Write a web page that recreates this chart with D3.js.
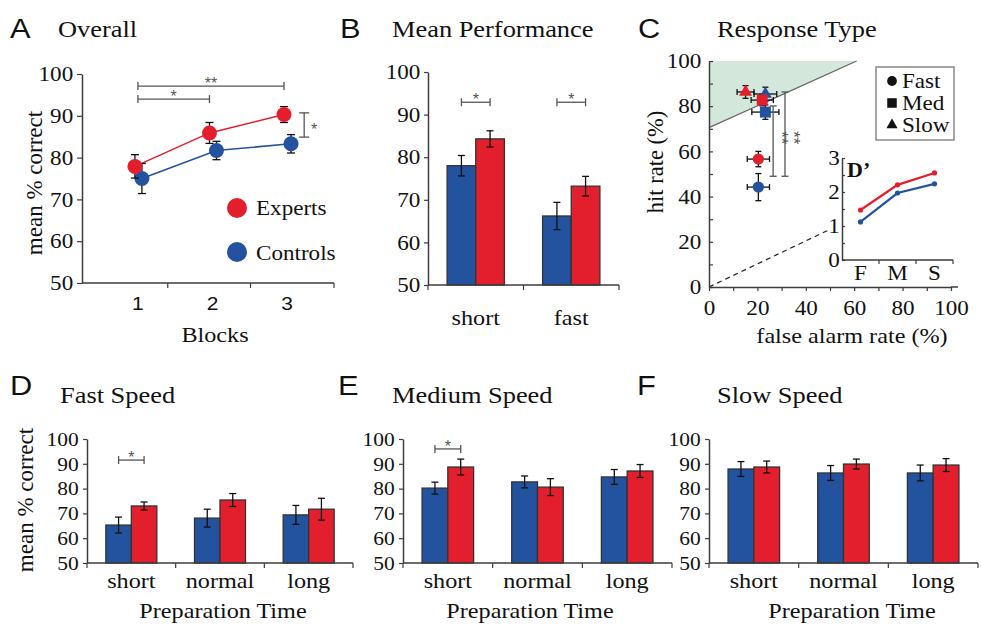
<!DOCTYPE html>
<html>
<head>
<meta charset="utf-8">
<script src="https://cdn.jsdelivr.net/npm/d3@7"></script>
<style>
  body { margin: 0; background: #fff; }
  svg { display: block; }
</style>
</head>
<body>
<svg id="fig" width="981" height="628"></svg>
<script>
// ---------- data ----------
const pctTicks = [50, 60, 70, 80, 90, 100];

// A: overall accuracy per block
const blocks = [1, 2, 3];
const overallExperts = [77.9, 85.9, 90.3];
const overallExpertsErr = [2.8, 2.5, 1.9];
const overallControls = [75.0, 81.7, 83.3];
const overallControlsErr = [3.6, 2.2, 2.2];

// B: mean performance
const meanCats = ["short", "fast"];
const meanControls = [78.0, 66.2];
const meanControlsErr = [2.4, 3.2];
const meanExperts = [84.3, 73.2];
const meanExpertsErr = [1.9, 2.3];

// C: hit rate vs false alarm rate by response type
const respTypes = ["Fast", "Med", "Slow"];
const expertsFA = [20.4, 22.0, 15.1];
const expertsFAErr = [4.6, 4.6, 3.5];
const expertsHit = [56.6, 82.7, 86.3];
const expertsHitErr = [3.4, 2.5, 2.8];
const controlsFA = [20.4, 23.3, 23.3];
const controlsFAErr = [4.6, 5.6, 4.7];
const controlsHit = [44.2, 77.4, 85.4];
const controlsHitErr = [6.0, 3.2, 3.0];
const rocTicks = [0, 20, 40, 60, 80, 100];
const shadeEdge = [[0, 70.5], [61, 100]];
const dashedRef = [[0, 0], [50, 25.5]];

// C inset: d'
const dprimeCats = ["F", "M", "S"];
const dprimeTicks = [0, 1, 2, 3];
const dprimeExperts = [1.47, 2.21, 2.56];
const dprimeControls = [1.12, 1.97, 2.24];

// D-F: accuracy by preparation time
const prepCats = ["short", "normal", "long"];
const fastControls = [65.3, 68.1, 69.4];
const fastControlsErr = [3.2, 3.6, 3.8];
const fastExperts = [73.0, 75.4, 71.7];
const fastExpertsErr = [1.6, 2.6, 4.4];
const medControls = [80.2, 82.7, 84.7];
const medControlsErr = [2.4, 2.4, 3.0];
const medExperts = [88.7, 80.6, 87.1];
const medExpertsErr = [3.2, 3.4, 2.6];
const slowControls = [87.9, 86.3, 86.3];
const slowControlsErr = [3.0, 3.0, 3.2];
const slowExperts = [88.7, 89.9, 89.5];
const slowExpertsErr = [2.4, 2.0, 2.6];

// ---------- style ----------
const SERIF = "Liberation Serif";
const SANS = "Liberation Sans";
const RED = "#e41f2d", BLUE = "#23539e";
const AXIS = "#3c3c3c", SIG = "#555555", INK = "#111111";
const SX = 1.1; // slight horizontal widening of the lettering

const svg = d3.select("#fig");
svg.append("rect").attr("width", 981).attr("height", 628).attr("fill", "#fff");

function text(g, x, y, s, o = {}) {
  const sx = o.sx ?? SX;
  const t = g.append("text")
    .attr("transform", `translate(${x},${y})` + (o.rotate ? ` rotate(${o.rotate})` : "") + ` scale(${sx},1)`)
    .attr("text-anchor", o.anchor || "start")
    .attr("fill", o.fill || INK)
    .attr("font-family", o.font || SERIF)
    .attr("font-size", o.size || 22);
  if (o.weight) t.attr("font-weight", o.weight);
  t.text(s);
  return t;
}

function styleAxis(sel, size, font) {
  sel.attr("font-family", font || SERIF).attr("font-size", size);
  sel.select(".domain").attr("stroke", AXIS).attr("stroke-width", 1.5);
  sel.selectAll(".tick line").attr("stroke", AXIS).attr("stroke-width", 1.2);
  sel.selectAll(".tick text")
    .attr("fill", INK)
    .attr("transform", `scale(${SX},1)`);
}

function line(g, x1, y1, x2, y2, color, w) {
  g.append("line").attr("x1", x1).attr("y1", y1).attr("x2", x2).attr("y2", y2)
    .attr("stroke", color).attr("stroke-width", w);
}

// vertical error bar with caps
function vErr(g, x, yLo, yHi, cap = 4) {
  line(g, x, yLo, x, yHi, "#111", 1.3);
  line(g, x - cap, yLo, x + cap, yLo, "#111", 1.3);
  line(g, x - cap, yHi, x + cap, yHi, "#111", 1.3);
}
function hErr(g, y, xLo, xHi, cap = 3.5) {
  line(g, xLo, y, xHi, y, "#111", 1.3);
  line(g, xLo, y - cap, xLo, y + cap, "#111", 1.3);
  line(g, xHi, y - cap, xHi, y + cap, "#111", 1.3);
}

// significance bracket, horizontal
function hSig(g, xa, xb, y, stars) {
  line(g, xa, y, xb, y, SIG, 1.3);
  line(g, xa, y - 4, xa, y + 4, SIG, 1.3);
  line(g, xb, y - 4, xb, y + 4, SIG, 1.3);
  text(g, (xa + xb) / 2, y + 3, stars, { anchor: "middle", font: SANS, size: 16, fill: SIG, sx: 1 });
}

// ---------- panel headings ----------
const headings = [
  ["A", 10, 38, "Overall", 58, 37],
  ["B", 340, 38, "Mean Performance", 392, 37],
  ["C", 638, 38, "Response Type", 717, 37],
  ["D", 10, 395, "Fast Speed", 60, 403],
  ["E", 338, 395, "Medium Speed", 392, 403],
  ["F", 637, 395, "Slow Speed", 717, 403]
];
headings.forEach(([L, lx, ly, T, tx, ty]) => {
  text(svg, lx, ly, L, { font: SANS, size: 28 });
  text(svg, tx, ty, T, { size: 24 });
});

// ---------- A: overall ----------
{
  const g = svg.append("g");
  const x = d3.scaleLinear().domain([0.25, 3.63]).range([82, 334]);
  const y = d3.scaleLinear().domain([50, 100]).range([283, 74]);
  const blockEdges = [1.4, 2.51, 3.63];

  g.append("g").attr("transform", `translate(${x.range()[0]},0)`)
    .call(d3.axisLeft(y).tickValues(pctTicks).tickSize(5).tickSizeOuter(0).tickPadding(3))
    .call(styleAxis, 21);
  line(g, x.range()[0], y(50), x.range()[1], y(50), AXIS, 1.5);
  blockEdges.forEach(b => line(g, x(b), y(50), x(b), y(50) + 5, AXIS, 1.2));
  blocks.forEach(b => text(g, x(b), 310, String(b), { anchor: "middle", font: SANS, size: 19 }));

  const series = [
    { vals: overallControls, errs: overallControlsErr, color: BLUE, dx: 4 },
    { vals: overallExperts, errs: overallExpertsErr, color: RED, dx: -3 }
  ];
  series.forEach(s => {
    const pts = blocks.map((b, i) => [x(b) + s.dx, y(s.vals[i])]);
    g.append("path").attr("d", d3.line()(pts)).attr("fill", "none")
      .attr("stroke", s.color).attr("stroke-width", 1.5);
  });
  series.forEach(s => {
    blocks.forEach((b, i) => vErr(g, x(b) + s.dx, y(s.vals[i] - s.errs[i]), y(s.vals[i] + s.errs[i])));
    g.selectAll(null).data(blocks).join("circle")
      .attr("cx", (b) => x(b) + s.dx).attr("cy", (b, i) => y(s.vals[i]))
      .attr("r", 7.5).attr("fill", s.color);
  });

  hSig(g, x(1), x(3) - 3, y(97.1), "**");
  hSig(g, x(1), x(2) - 3, y(94.0), "*");
  // between-group bracket at block 3
  const bx = x(3.23);
  line(g, bx, y(90.7), bx, y(84.9), SIG, 1.3);
  line(g, bx - 5, y(90.7), bx + 5, y(90.7), SIG, 1.3);
  line(g, bx - 5, y(84.9), bx + 5, y(84.9), SIG, 1.3);
  text(g, bx + 10, y(87.8) + 10, "*", { anchor: "middle", font: SANS, size: 16, fill: SIG, sx: 1 });

  // legend
  g.append("circle").attr("cx", 237).attr("cy", 208).attr("r", 10).attr("fill", RED);
  text(g, 256, 215, "Experts", { size: 21 });
  g.append("circle").attr("cx", 237).attr("cy", 252).attr("r", 10).attr("fill", BLUE);
  text(g, 256, 260, "Controls", { size: 21 });

  text(g, 215, 342, "Blocks", { anchor: "middle", size: 22 });
  text(g, 42, 183, "mean % correct", { anchor: "middle", size: 23, rotate: -90, sx: 1 });
}

// ---------- bar panels ----------
function barPanel(cfg) {
  const g = svg.append("g");
  const y = d3.scaleLinear().domain([50, 100]).range([cfg.yBot, cfg.yTop]);
  const x = d3.scaleBand().domain(cfg.cats).range([cfg.x0, cfg.x1])
    .paddingInner(cfg.pad).paddingOuter(cfg.pad / 2);
  const sub = d3.scaleBand().domain(["controls", "experts"]).range([0, x.bandwidth()]);

  const rows = cfg.cats.flatMap((c, i) => [
    { cat: c, grp: "controls", v: cfg.controls[i], e: cfg.controlsErr[i], color: BLUE },
    { cat: c, grp: "experts", v: cfg.experts[i], e: cfg.expertsErr[i], color: RED }
  ]);

  g.selectAll("rect.bar").data(rows).join("rect")
    .attr("class", "bar")
    .attr("x", d => x(d.cat) + sub(d.grp))
    .attr("y", d => y(d.v))
    .attr("width", sub.bandwidth())
    .attr("height", d => y(50) - y(d.v))
    .attr("fill", d => d.color)
    .attr("stroke", "#333").attr("stroke-width", 1.3);

  rows.forEach(d => {
    const cx = x(d.cat) + sub(d.grp) + sub.bandwidth() / 2;
    vErr(g, cx, y(d.v - d.e), y(d.v + d.e), 3.5);
  });

  g.append("g").attr("transform", `translate(${cfg.x0},0)`)
    .call(d3.axisLeft(y).tickValues(pctTicks).tickSize(4).tickSizeOuter(0).tickPadding(cfg.tickPad))
    .call(styleAxis, cfg.tickSize);

  line(g, cfg.x0, y(50), cfg.x1, y(50), AXIS, 1.5);
  const edges = cfg.cats.map(c => x(c) - x.step() * cfg.pad / 2).concat([cfg.x1]);
  edges.forEach(e => line(g, e, y(50), e, y(50) + 5, AXIS, 1.2));

  cfg.cats.forEach(c => text(g, x(c) + x.bandwidth() / 2, cfg.catY, c, { anchor: "middle", size: 22 }));

  (cfg.sig || []).forEach(s => {
    const xa = x(s.cat) + sub("controls") + sub.bandwidth() / 2;
    const xb = x(s.cat) + sub("experts") + sub.bandwidth() / 2;
    hSig(g, xa, xb, y(s.v), "*");
  });
  return g;
}

barPanel({
  x0: 428, x1: 619, yTop: 72, yBot: 285, pad: 0.4, tickSize: 21, tickPad: 3, catY: 325,
  cats: meanCats, controls: meanControls, controlsErr: meanControlsErr,
  experts: meanExperts, expertsErr: meanExpertsErr,
  sig: [{ cat: "short", v: 92.9 }, { cat: "fast", v: 92.9 }]
});

const gD = barPanel({
  x0: 87, x1: 353, yTop: 439, yBot: 563, pad: 0.425, tickSize: 19.5, tickPad: 3.5, catY: 588,
  cats: prepCats, controls: fastControls, controlsErr: fastControlsErr,
  experts: fastExperts, expertsErr: fastExpertsErr,
  sig: [{ cat: "short", v: 91.5 }]
});
text(gD, 33, 500, "mean % correct", { anchor: "middle", size: 23, rotate: -90, sx: 1 });
text(gD, 223, 618, "Preparation Time", { anchor: "middle", size: 22 });

const gE = barPanel({
  x0: 403, x1: 672, yTop: 439, yBot: 563, pad: 0.425, tickSize: 19.5, tickPad: 3.5, catY: 588,
  cats: prepCats, controls: medControls, controlsErr: medControlsErr,
  experts: medExperts, expertsErr: medExpertsErr,
  sig: [{ cat: "short", v: 96 }]
});
text(gE, 530, 618, "Preparation Time", { anchor: "middle", size: 22 });

const gF = barPanel({
  x0: 709, x1: 978, yTop: 439, yBot: 563, pad: 0.425, tickSize: 19.5, tickPad: 3.5, catY: 588,
  cats: prepCats, controls: slowControls, controlsErr: slowControlsErr,
  experts: slowExperts, expertsErr: slowExpertsErr
});
text(gF, 852, 618, "Preparation Time", { anchor: "middle", size: 22 });

// ---------- C: response type ----------
{
  const g = svg.append("g");
  const x = d3.scaleLinear().domain([0, 100]).range([709, 951]);
  const y = d3.scaleLinear().domain([0, 100]).range([287, 61]);
  const toPx = p => [x(p[0]), y(p[1])];

  // region above the boundary
  g.append("path")
    .attr("d", d3.line()([toPx(shadeEdge[0]), toPx([0, 100]), toPx(shadeEdge[1])]) + "Z")
    .attr("fill", "#d4e7db");
  g.append("path").attr("d", d3.line()(shadeEdge.map(toPx)))
    .attr("stroke", "#666").attr("stroke-width", 1.2).attr("fill", "none");
  g.append("path").attr("d", d3.line()(dashedRef.map(toPx)))
    .attr("stroke", "#222").attr("stroke-width", 1.2).attr("stroke-dasharray", "5,4").attr("fill", "none");

  g.append("g").attr("transform", `translate(${x(0)},0)`)
    .call(d3.axisLeft(y).tickValues(d3.range(0, 101, 10)).tickSizeInner(-4).tickSizeOuter(0).tickPadding(7)
      .tickFormat(d => rocTicks.includes(d) ? d : ""))
    .call(styleAxis, 21);
  g.append("g").attr("transform", `translate(0,${y(0)})`)
    .call(d3.axisBottom(x).tickValues(d3.range(0, 101, 10)).tickSize(4).tickSizeOuter(0).tickPadding(9)
      .tickFormat(d => rocTicks.includes(d) ? d : ""))
    .call(styleAxis, 21);
  line(g, x(100), y(0), x(100) + 7, y(0), AXIS, 1.5);

  const shapes = [d3.symbolCircle, d3.symbolSquare, d3.symbolTriangle];
  const sizes = [100, 121, 72];
  const groups = [
    { fa: controlsFA, faE: controlsFAErr, hit: controlsHit, hitE: controlsHitErr, color: BLUE },
    { fa: expertsFA, faE: expertsFAErr, hit: expertsHit, hitE: expertsHitErr, color: RED }
  ];
  groups.forEach(s => {
    respTypes.forEach((t, i) => {
      hErr(g, y(s.hit[i]), x(s.fa[i] - s.faE[i]), x(s.fa[i] + s.faE[i]), 3);
      vErr(g, x(s.fa[i]), y(s.hit[i] - s.hitE[i]), y(s.hit[i] + s.hitE[i]), 3);
    });
  });
  groups.forEach(s => {
    respTypes.forEach((t, i) => {
      g.append("path")
        .attr("d", d3.symbol().type(shapes[i]).size(sizes[i])())
        .attr("transform", `translate(${x(s.fa[i])},${y(s.hit[i])})`)
        .attr("fill", s.color);
    });
  });

  // fast vs med/slow brackets
  [[26.5, 49, 80.1], [31.4, 49, 86.3]].forEach(([fa, lo, hi]) => {
    const bx = x(fa);
    line(g, bx, y(lo), bx, y(hi), SIG, 1.3);
    line(g, bx - 3.5, y(lo), bx + 3.5, y(lo), SIG, 1.3);
    line(g, bx - 3.5, y(hi), bx + 3.5, y(hi), SIG, 1.3);
    g.append("text")
      .attr("transform", `translate(${bx + 3},${y(66)}) rotate(90)`)
      .attr("text-anchor", "middle")
      .attr("fill", SIG)
      .attr("font-family", SANS).attr("font-size", 17)
      .text("**");
  });

  // legend
  g.append("rect").attr("x", 876).attr("y", 67).attr("width", 78).attr("height", 73)
    .attr("fill", "#fff").attr("stroke", "#888").attr("stroke-width", 1.5);
  const legY = [81, 103, 125];
  respTypes.forEach((t, i) => {
    g.append("path")
      .attr("d", d3.symbol().type(shapes[i]).size(sizes[i] * 0.75)())
      .attr("transform", `translate(892,${legY[i]})`)
      .attr("fill", "#111");
    text(g, 902, legY[i] + 7, t, { size: 21 });
  });

  text(g, 852, 343, "false alarm rate (%)", { anchor: "middle", size: 22 });
  text(g, 663, 162, "hit rate (%)", { anchor: "middle", size: 22.5, rotate: -90, sx: 1 });

  // inset: d'
  const gi = g.append("g");
  gi.append("rect").attr("x", 832).attr("y", 146).attr("width", 126).attr("height", 138).attr("fill", "#fff");
  const xi = d3.scalePoint().domain(dprimeCats).range([842, 953]).padding(0.5);
  const yi = d3.scaleLinear().domain([0, 3]).range([260, 158]);
  gi.append("g").attr("transform", "translate(842,0)")
    .call(d3.axisLeft(yi).tickValues(d3.range(0, 3.01, 0.5)).tickSizeInner(-3).tickSizeOuter(0).tickPadding(2)
      .tickFormat(d => dprimeTicks.includes(d) ? d : ""))
    .call(styleAxis, 21);
  line(gi, 842, yi(0), 953, yi(0), AXIS, 1.5);
  const step = xi.step();
  dprimeCats.forEach(c => line(gi, xi(c) + step / 2, yi(0), xi(c) + step / 2, yi(0) + 4, AXIS, 1.2));
  dprimeCats.forEach(c => text(gi, xi(c), 280, c, { anchor: "middle", size: 21 }));
  [[dprimeControls, BLUE], [dprimeExperts, RED]].forEach(([vals, color]) => {
    const pts = dprimeCats.map((c, i) => [xi(c), yi(vals[i])]);
    gi.append("path").attr("d", d3.line()(pts)).attr("fill", "none")
      .attr("stroke", color).attr("stroke-width", 2.2);
    gi.selectAll(null).data(pts).join("circle")
      .attr("cx", d => d[0]).attr("cy", d => d[1]).attr("r", 2.6).attr("fill", color);
  });
  text(gi, 847, 177, "D’", { size: 20, weight: "bold" });
}
</script>
</body>
</html>
